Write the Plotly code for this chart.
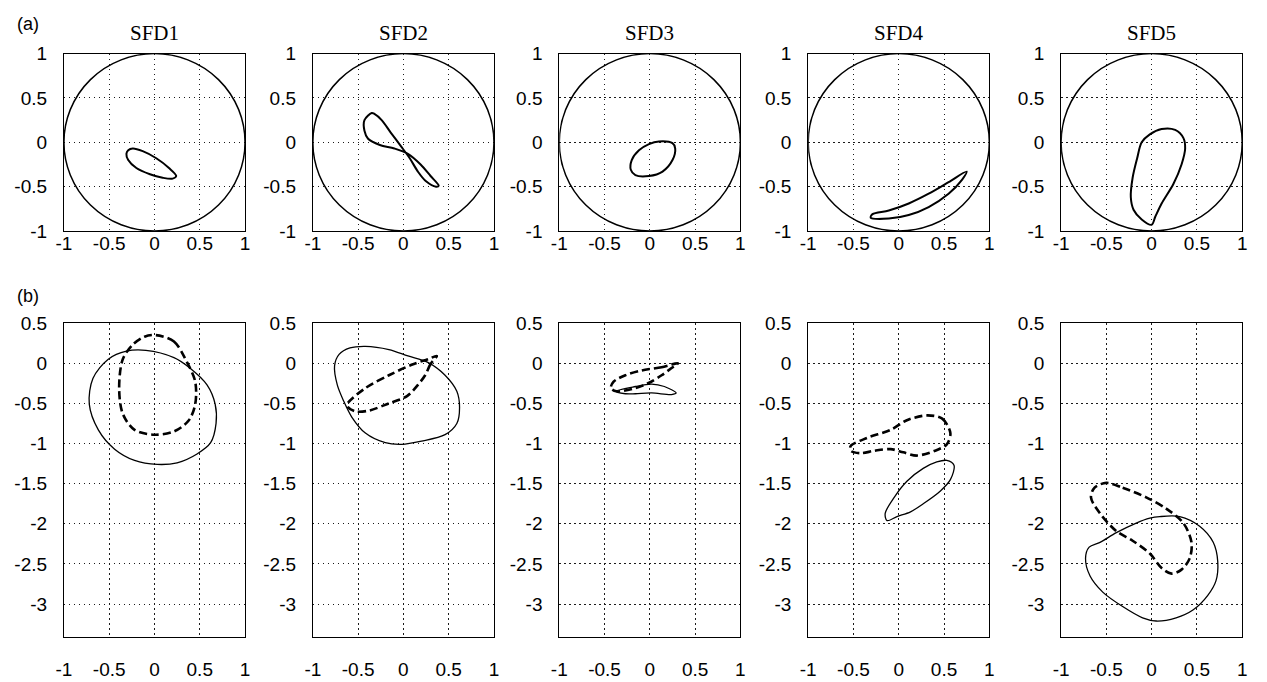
import plotly.graph_objects as go

FIG_W, FIG_H = 1267, 682

# ---------------- data ----------------
panel_names = ["SFD1", "SFD2", "SFD3", "SFD4", "SFD5"]
x_ticks = [-1, -0.5, 0, 0.5, 1]
x_tick_labels = ["-1", "-0.5", "0", "0.5", "1"]
top_y_ticks = [-1, -0.5, 0, 0.5, 1]
top_y_tick_labels = ["-1", "-0.5", "0", "0.5", "1"]
bottom_y_ticks = [0.5, 0, -0.5, -1, -1.5, -2, -2.5, -3]
bottom_y_tick_labels = ["0.5", "0", "-0.5", "-1", "-1.5", "-2", "-2.5", "-3"]
clearance_radius = 1.0

# (a) orbits
a_sfd1_x = [-0.29, -0.24, -0.13, 0.02, 0.16, 0.24, 0.20, 0.09, -0.05, -0.20, -0.29, -0.31, -0.29]
a_sfd1_y = [-0.09, -0.07, -0.10, -0.18, -0.29, -0.38, -0.41, -0.40, -0.36, -0.29, -0.20, -0.13, -0.09]

a_sfd2_x = [-0.35, -0.43, -0.43, -0.39, -0.26, -0.10, 0.05, 0.19, 0.30, 0.39, 0.36, 0.25, 0.16, 0.07, -0.03, -0.14, -0.24, -0.32, -0.35]
a_sfd2_y = [0.33, 0.25, 0.13, 0.04, -0.03, -0.07, -0.13, -0.25, -0.38, -0.49, -0.50, -0.44, -0.33, -0.18, -0.04, 0.11, 0.25, 0.32, 0.33]

a_sfd3_x = [-0.01, 0.10, 0.25, 0.28, 0.25, 0.14, -0.01, -0.16, -0.21, -0.20, -0.12, -0.01]
a_sfd3_y = [-0.02, 0.01, -0.01, -0.07, -0.20, -0.33, -0.38, -0.37, -0.31, -0.20, -0.09, -0.02]

a_sfd4_x = [0.75, 0.55, 0.33, 0.11, -0.11, -0.29, -0.31, -0.11, 0.11, 0.33, 0.55, 0.70, 0.75]
a_sfd4_y = [-0.33, -0.45, -0.58, -0.69, -0.77, -0.81, -0.85, -0.86, -0.82, -0.73, -0.58, -0.42, -0.33]

a_sfd5_x = [0.00, -0.11, -0.20, -0.23, -0.21, -0.16, -0.11, -0.02, 0.11, 0.26, 0.35, 0.37, 0.33, 0.24, 0.11, 0.04, 0.00]
a_sfd5_y = [-0.93, -0.87, -0.76, -0.62, -0.40, -0.18, 0.00, 0.09, 0.15, 0.14, 0.05, -0.07, -0.25, -0.47, -0.69, -0.84, -0.93]

# (b) solid / dashed orbits
b_sfd1_solid_x = [-0.095, 0.215, 0.38, 0.58, 0.67, 0.68, 0.62, 0.47, 0.25, 0.03, -0.22, -0.44, -0.62, -0.72, -0.68, -0.51, -0.31, -0.095]
b_sfd1_solid_y = [0.16, 0.07, -0.05, -0.27, -0.51, -0.75, -0.99, -1.13, -1.24, -1.26, -1.21, -1.07, -0.83, -0.51, -0.19, 0.05, 0.15, 0.16]
b_sfd1_dash_x = [0.015, 0.215, 0.36, 0.45, 0.45, 0.38, 0.215, 0.0, -0.22, -0.35, -0.39, -0.35, -0.24, -0.11, 0.015]
b_sfd1_dash_y = [0.35, 0.27, 0.01, -0.23, -0.51, -0.71, -0.85, -0.89, -0.83, -0.63, -0.31, 0.05, 0.23, 0.33, 0.35]

b_sfd2_solid_x = [-0.42, -0.16, 0.05, 0.27, 0.46, 0.59, 0.62, 0.59, 0.46, 0.20, -0.02, -0.20, -0.42, -0.57, -0.66, -0.73, -0.76, -0.71, -0.59, -0.42]
b_sfd2_solid_y = [0.21, 0.17, 0.09, 0.01, -0.15, -0.35, -0.55, -0.75, -0.89, -0.97, -1.01, -0.99, -0.87, -0.67, -0.47, -0.27, -0.03, 0.11, 0.19, 0.21]
b_sfd2_dash_x = [0.37, 0.30, 0.24, 0.16, 0.04, -0.16, -0.38, -0.53, -0.61, -0.62, -0.42, -0.16, 0.09, 0.27, 0.37]
b_sfd2_dash_y = [0.09, -0.01, -0.15, -0.27, -0.41, -0.50, -0.59, -0.60, -0.55, -0.51, -0.31, -0.15, -0.02, 0.05, 0.09]

b_sfd3_solid_x = [-0.38, -0.16, 0.02, 0.16, 0.29, 0.24, 0.02, -0.16, -0.27, -0.38]
b_sfd3_solid_y = [-0.35, -0.29, -0.26, -0.29, -0.37, -0.39, -0.37, -0.38, -0.38, -0.35]
b_sfd3_dash_x = [0.31, 0.13, -0.09, -0.27, -0.40, -0.43, -0.37, -0.16, -0.02, 0.13, 0.24, 0.31]
b_sfd3_dash_y = [0.00, -0.05, -0.09, -0.15, -0.23, -0.31, -0.35, -0.31, -0.25, -0.15, -0.06, 0.00]

b_sfd4_solid_x = [-0.15, -0.05, 0.09, 0.27, 0.42, 0.53, 0.61, 0.57, 0.46, 0.27, 0.13, -0.02, -0.13, -0.15]
b_sfd4_solid_y = [-1.87, -1.67, -1.47, -1.31, -1.23, -1.21, -1.27, -1.45, -1.59, -1.75, -1.85, -1.91, -1.96, -1.87]
b_sfd4_dash_x = [0.31, 0.48, 0.57, 0.53, 0.40, 0.20, 0.05, -0.09, -0.27, -0.42, -0.53, -0.53, -0.35, -0.09, 0.09, 0.31]
b_sfd4_dash_y = [-0.65, -0.69, -0.87, -1.01, -1.09, -1.15, -1.11, -1.07, -1.09, -1.12, -1.09, -1.03, -0.93, -0.83, -0.71, -0.65]

b_sfd5_solid_x = [0.09, 0.31, 0.53, 0.68, 0.73, 0.71, 0.62, 0.46, 0.27, 0.05, -0.10, -0.32, -0.54, -0.68, -0.73, -0.69, -0.57, -0.39, -0.17, -0.02, 0.09]
b_sfd5_solid_y = [-1.91, -1.91, -2.03, -2.23, -2.47, -2.71, -2.89, -3.07, -3.17, -3.21, -3.17, -3.03, -2.85, -2.65, -2.43, -2.29, -2.23, -2.11, -1.99, -1.93, -1.91]
b_sfd5_dash_x = [-0.50, -0.32, -0.06, 0.16, 0.35, 0.44, 0.42, 0.33, 0.22, 0.11, -0.02, -0.21, -0.39, -0.57, -0.67, -0.63, -0.50]
b_sfd5_dash_y = [-1.49, -1.55, -1.67, -1.81, -1.99, -2.23, -2.43, -2.57, -2.62, -2.55, -2.37, -2.21, -2.09, -1.87, -1.67, -1.55, -1.49]

a_orbits = [
    (a_sfd1_x, a_sfd1_y), (a_sfd2_x, a_sfd2_y), (a_sfd3_x, a_sfd3_y),
    (a_sfd4_x, a_sfd4_y), (a_sfd5_x, a_sfd5_y),
]
b_solid = [
    (b_sfd1_solid_x, b_sfd1_solid_y), (b_sfd2_solid_x, b_sfd2_solid_y), (b_sfd3_solid_x, b_sfd3_solid_y),
    (b_sfd4_solid_x, b_sfd4_solid_y), (b_sfd5_solid_x, b_sfd5_solid_y),
]
b_dash = [
    (b_sfd1_dash_x, b_sfd1_dash_y), (b_sfd2_dash_x, b_sfd2_dash_y), (b_sfd3_dash_x, b_sfd3_dash_y),
    (b_sfd4_dash_x, b_sfd4_dash_y), (b_sfd5_dash_x, b_sfd5_dash_y),
]

# ---------------- layout geometry (pixels) ----------------
panel_left_px = [56.5, 308, 557, 808.5, 1064]
panel_w_px = 183
top_row_px = (45, 228)
bottom_row_px = (323, 647)

TICK_FONT = dict(family="Liberation Sans, Arial, sans-serif", size=19, color="black")
LABEL_FONT = dict(family="Liberation Sans, Arial, sans-serif", size=18, color="black")
TITLE_FONT = dict(family="Liberation Serif, Times New Roman, serif", size=21, color="black")
GRID_DASH = "1.5px,3.5px"


def xdom(i):
    l = panel_left_px[i]
    return [l / FIG_W, (l + panel_w_px) / FIG_W]


def ydom(row):
    t, b = row
    return [1 - b / FIG_H, 1 - t / FIG_H]


fig = go.Figure()
layout = dict(
    width=FIG_W, height=FIG_H,
    margin=dict(l=0, r=0, t=0, b=0),
    paper_bgcolor="white", plot_bgcolor="white",
    showlegend=False,
)


def axis_common():
    return dict(
        showline=True, mirror=True, linecolor="black", linewidth=1,
        showgrid=True, gridcolor="#1a1a1a", gridwidth=1, griddash=GRID_DASH,
        zeroline=False, ticks="", tickfont=TICK_FONT, fixedrange=True,
    )


annotations = []
shapes = []
for i in range(5):
    # top row
    k = i + 1
    xa = "xaxis" if k == 1 else f"xaxis{k}"
    ya = "yaxis" if k == 1 else f"yaxis{k}"
    xr = "x" if k == 1 else f"x{k}"
    yr = "y" if k == 1 else f"y{k}"
    layout[xa] = dict(axis_common(), domain=xdom(i), range=[-1, 1], anchor=yr,
                      tickvals=x_ticks, ticktext=x_tick_labels, ticklabelstandoff=-5)
    layout[ya] = dict(axis_common(), domain=ydom(top_row_px), range=[-1, 1], anchor=xr,
                      tickvals=top_y_ticks, ticktext=top_y_tick_labels, ticklabelstandoff=12)
    shapes.append(dict(type="circle", xref=xr, yref=yr,
                       x0=-clearance_radius, y0=-clearance_radius,
                       x1=clearance_radius, y1=clearance_radius,
                       line=dict(color="black", width=1.5), layer="above"))
    ox, oy = a_orbits[i]
    fig.add_trace(go.Scatter(x=ox, y=oy, mode="lines", xaxis=xr, yaxis=yr,
                             line=dict(color="black", width=2, shape="spline", smoothing=0.9),
                             hoverinfo="skip"))
    annotations.append(dict(text=panel_names[i], xref="paper", yref="paper",
                            x=(panel_left_px[i] + panel_w_px / 2) / FIG_W, y=1 - 24 / FIG_H,
                            xanchor="center", yanchor="middle", showarrow=False, font=TITLE_FONT))

    # bottom row
    k = i + 6
    xa, ya, xr, yr = f"xaxis{k}", f"yaxis{k}", f"x{k}", f"y{k}"
    layout[xa] = dict(axis_common(), domain=xdom(i), range=[-1, 1], anchor=yr,
                      tickvals=x_ticks, ticktext=x_tick_labels, ticklabelstandoff=15)
    layout[ya] = dict(axis_common(), domain=ydom(bottom_row_px), range=[-3.41, 0.5], anchor=xr,
                      tickvals=bottom_y_ticks, ticktext=bottom_y_tick_labels, ticklabelstandoff=12)
    sx, sy = b_solid[i]
    fig.add_trace(go.Scatter(x=sx, y=sy, mode="lines", xaxis=xr, yaxis=yr,
                             line=dict(color="black", width=1.3, shape="spline", smoothing=0.9),
                             hoverinfo="skip"))
    dx, dy = b_dash[i]
    fig.add_trace(go.Scatter(x=dx, y=dy, mode="lines", xaxis=xr, yaxis=yr,
                             line=dict(color="black", width=2.6, shape="spline", smoothing=0.9,
                                       dash="8px,4px"),
                             hoverinfo="skip"))

annotations.append(dict(text="(a)", xref="paper", yref="paper", x=7 / FIG_W, y=1 - 14 / FIG_H,
                        xanchor="left", yanchor="middle", showarrow=False, font=LABEL_FONT))
annotations.append(dict(text="(b)", xref="paper", yref="paper", x=7 / FIG_W, y=1 - 295 / FIG_H,
                        xanchor="left", yanchor="middle", showarrow=False, font=LABEL_FONT))

layout["annotations"] = annotations
layout["shapes"] = shapes
fig.update_layout(**layout)
fig.write_html("out.html")
